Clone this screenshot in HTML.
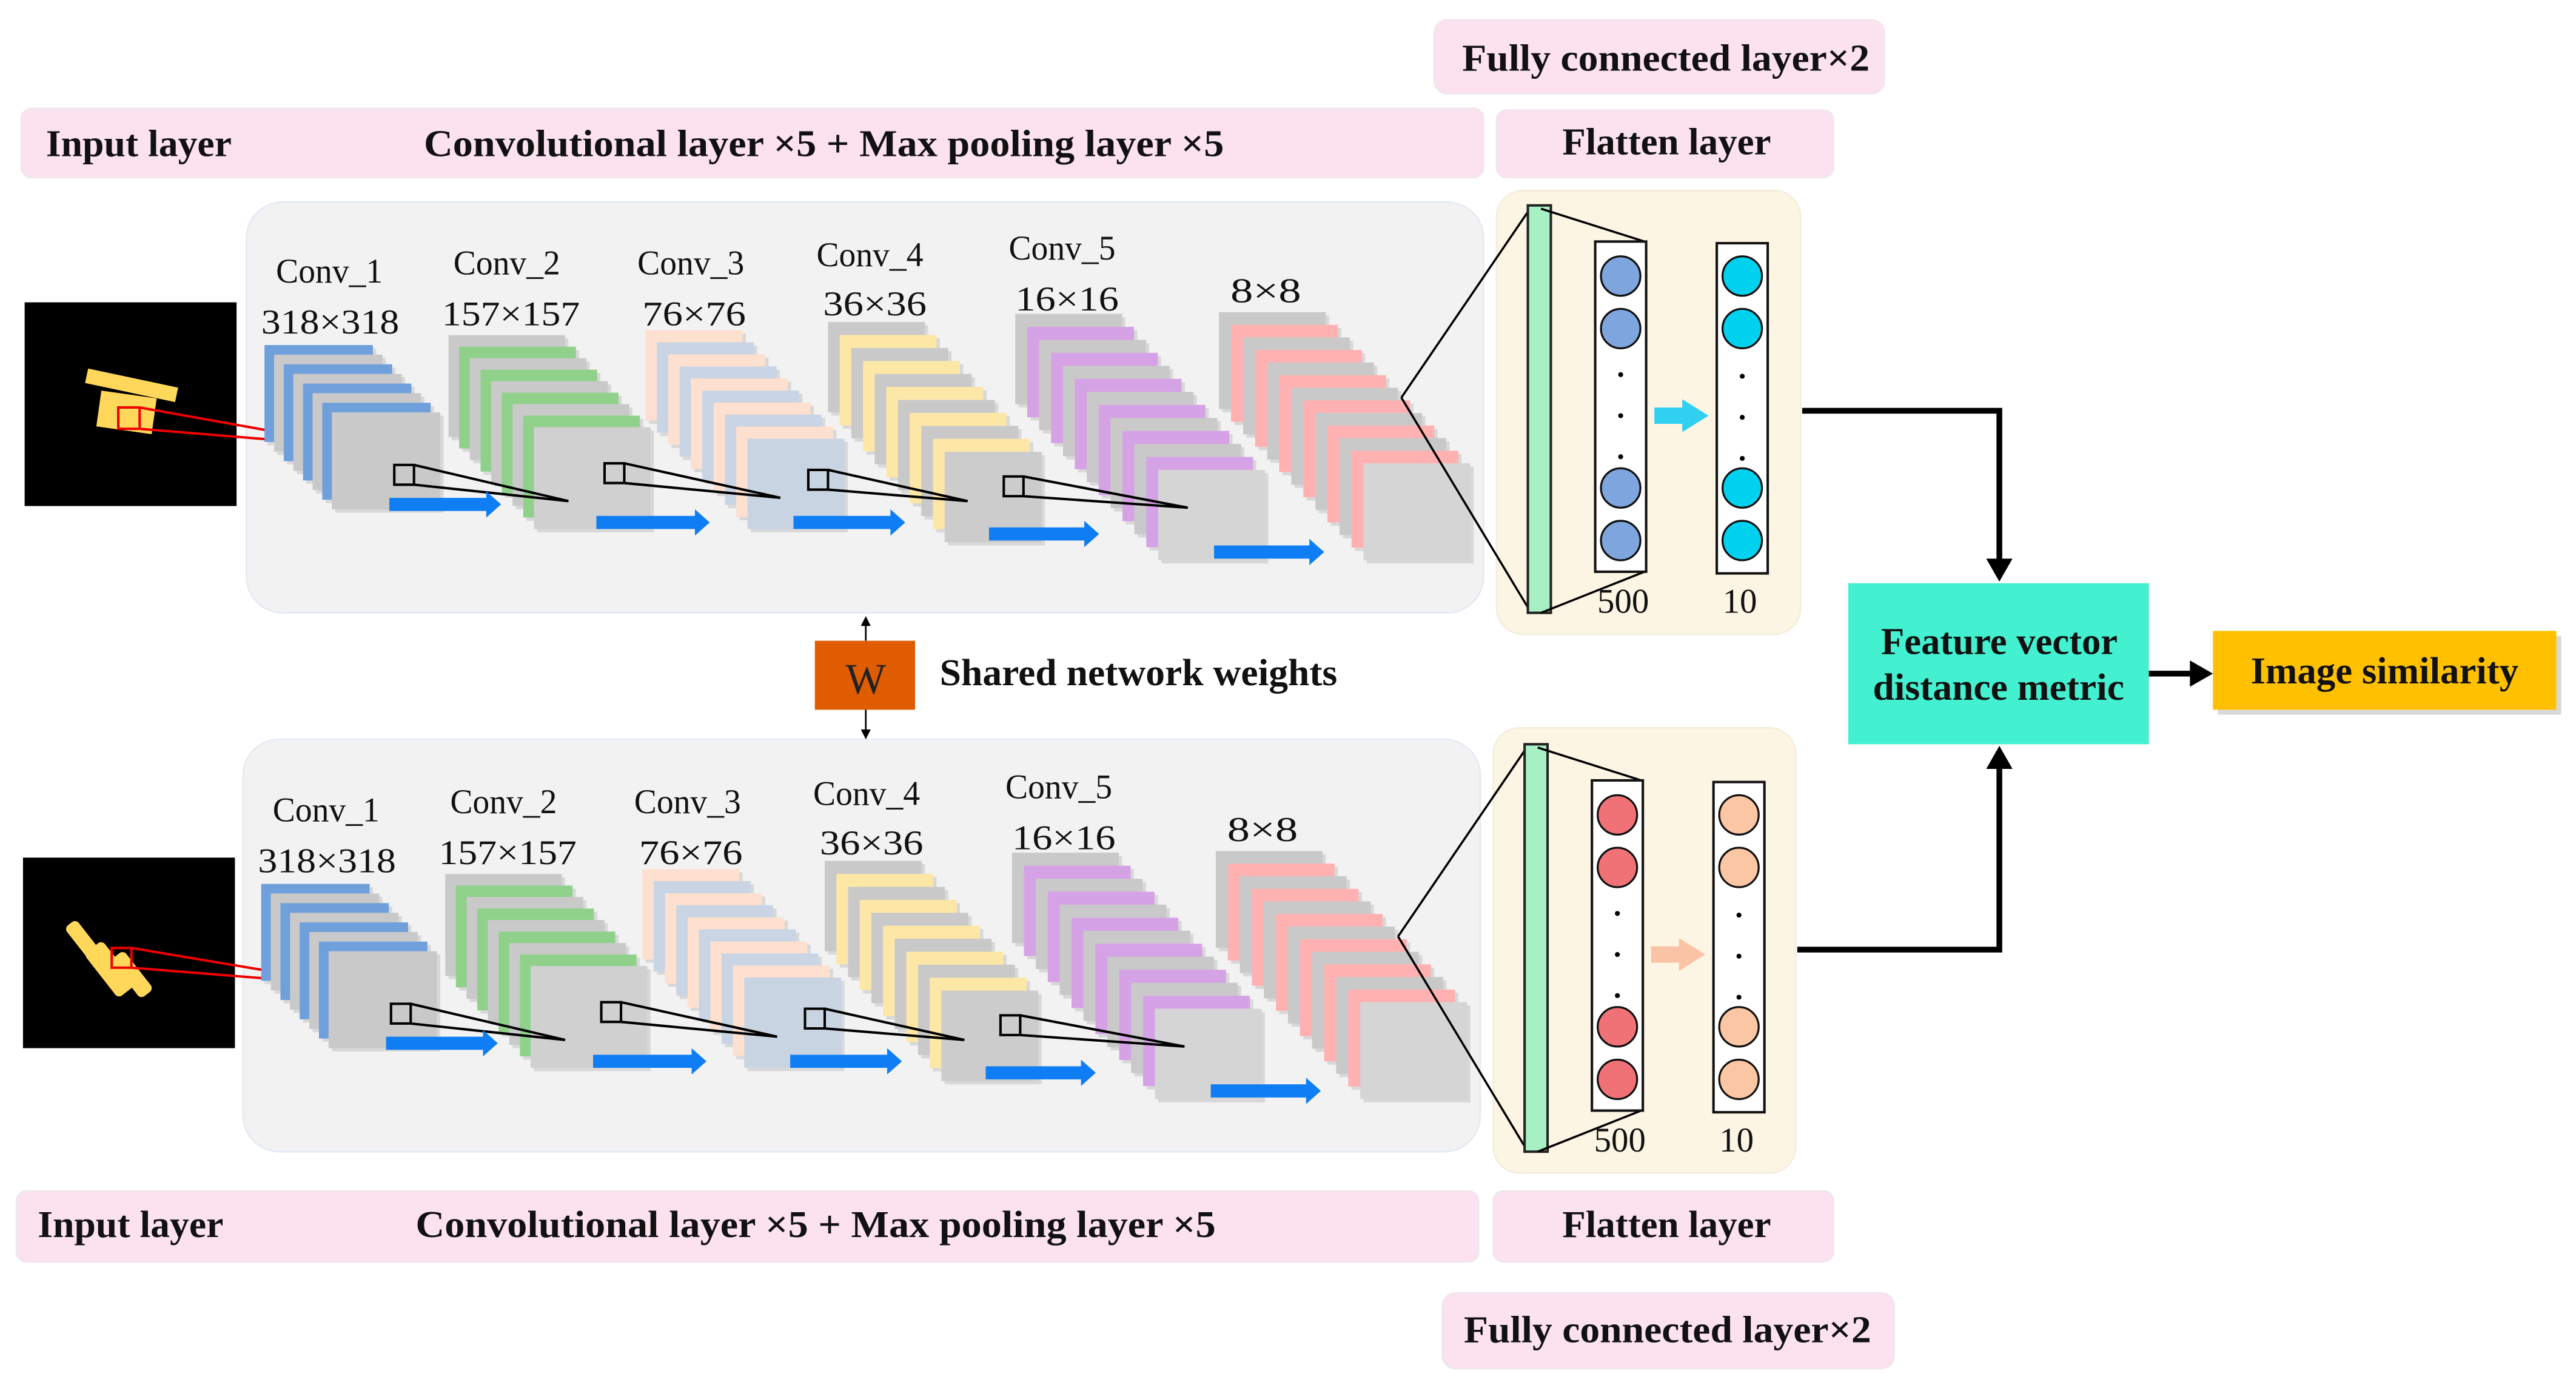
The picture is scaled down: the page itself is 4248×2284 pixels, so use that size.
<!DOCTYPE html>
<html><head><meta charset="utf-8"><style>
html,body{margin:0;padding:0;background:#fff;}
svg{display:block;}
text{font-family:"Liberation Serif",serif;}
.b{font-weight:bold;font-size:23px;fill:#111;}
.n{font-size:21px;fill:#111;}
</style></head><body>
<svg id="s" width="4248" height="2284" viewBox="0 0 1568 843" xmlns="http://www.w3.org/2000/svg">
<defs>
<marker id="ah" markerWidth="6" markerHeight="6" refX="5" refY="3" orient="auto" markerUnits="strokeWidth"><path d="M0,0 L6,3 L0,6 z" fill="#000"/></marker>
</defs>
<!-- top labels -->
<rect x="873" y="12" width="274" height="45" rx="8" fill="#fce1ef" stroke="#f1e6ee"/>
<text class="b" x="890" y="43" textLength="248" lengthAdjust="spacingAndGlyphs">Fully connected layer×2</text>
<rect x="13" y="66" width="890" height="42" rx="6" fill="#fce1ef" stroke="#f1e6ee"/>
<text class="b" x="28" y="95" textLength="113" lengthAdjust="spacingAndGlyphs">Input layer</text>
<text class="b" x="258" y="95" textLength="487" lengthAdjust="spacingAndGlyphs">Convolutional layer ×5 + Max pooling layer ×5</text>
<rect x="911" y="67" width="205" height="41" rx="6" fill="#fce1ef" stroke="#f1e6ee"/>
<text class="b" x="951" y="94" textLength="127" lengthAdjust="spacingAndGlyphs">Flatten layer</text>
<!-- bottom labels -->
<rect x="10" y="725" width="890" height="43" rx="6" fill="#fce1ef" stroke="#f1e6ee"/>
<text class="b" x="23" y="753" textLength="113" lengthAdjust="spacingAndGlyphs">Input layer</text>
<text class="b" x="253" y="753" textLength="487" lengthAdjust="spacingAndGlyphs">Convolutional layer ×5 + Max pooling layer ×5</text>
<rect x="909" y="725" width="207" height="43" rx="6" fill="#fce1ef" stroke="#f1e6ee"/>
<text class="b" x="951" y="753" textLength="127" lengthAdjust="spacingAndGlyphs">Flatten layer</text>
<rect x="878" y="787" width="275" height="46" rx="8" fill="#fce1ef" stroke="#f1e6ee"/>
<text class="b" x="891" y="817" textLength="248" lengthAdjust="spacingAndGlyphs">Fully connected layer×2</text>

<g id="top">
<rect x="150" y="123" width="753" height="250" rx="22" fill="#f2f2f2" stroke="#e4ebf5"/>
<rect x="15" y="184" width="129" height="124" fill="#000"/>
<g fill="#ffd75a">
<rect x="52" y="230" width="56" height="9" transform="rotate(12 80 235)"/>
<rect x="60" y="240" width="34" height="22" transform="rotate(8 77 251)"/>
</g>
<rect x="72" y="248" width="13" height="13" fill="none" stroke="#e00" stroke-width="1.5"/>
<path d="M85,248 L219,272 L85,261" fill="none" stroke="#e00" stroke-width="1.5"/>
<g class="stacks"></g>
<text class="n" x="168" y="172" textLength="65" lengthAdjust="spacingAndGlyphs">Conv_1</text>
<text class="n" x="159" y="203" textLength="84" lengthAdjust="spacingAndGlyphs">318×318</text>
<text class="n" x="276" y="167" textLength="65" lengthAdjust="spacingAndGlyphs">Conv_2</text>
<text class="n" x="269" y="198" textLength="84" lengthAdjust="spacingAndGlyphs">157×157</text>
<text class="n" x="388" y="167" textLength="65" lengthAdjust="spacingAndGlyphs">Conv_3</text>
<text class="n" x="391" y="198" textLength="63" lengthAdjust="spacingAndGlyphs">76×76</text>
<text class="n" x="497" y="162" textLength="65" lengthAdjust="spacingAndGlyphs">Conv_4</text>
<text class="n" x="501" y="192" textLength="63" lengthAdjust="spacingAndGlyphs">36×36</text>
<text class="n" x="614" y="158" textLength="65" lengthAdjust="spacingAndGlyphs">Conv_5</text>
<text class="n" x="618" y="189" textLength="63" lengthAdjust="spacingAndGlyphs">16×16</text>
<text class="n" x="749" y="184" textLength="43" lengthAdjust="spacingAndGlyphs">8×8</text>
</g>

<g id="bot" transform="translate(-2,328)">
<rect x="150" y="122" width="753" height="251" rx="22" fill="#f2f2f2" stroke="#e4ebf5"/>
<rect x="16" y="194" width="129" height="116" fill="#000"/>
<g fill="#ffd75a">
<rect x="50" y="227" width="9" height="38" rx="3" transform="rotate(-38 60 245)"/>
<rect x="62" y="245" width="14" height="34" rx="3" transform="rotate(-38 69 262)"/>
<rect x="78" y="250" width="10" height="30" rx="3" transform="rotate(-38 83 266)"/>
</g>
<rect x="70" y="249" width="12" height="12" fill="none" stroke="#e00" stroke-width="1.5"/>
<path d="M82,249 L219,272 L82,261" fill="none" stroke="#e00" stroke-width="1.5"/>
<g class="stacks"></g>
<text class="n" x="168" y="172" textLength="65" lengthAdjust="spacingAndGlyphs">Conv_1</text>
<text class="n" x="159" y="203" textLength="84" lengthAdjust="spacingAndGlyphs">318×318</text>
<text class="n" x="276" y="167" textLength="65" lengthAdjust="spacingAndGlyphs">Conv_2</text>
<text class="n" x="269" y="198" textLength="84" lengthAdjust="spacingAndGlyphs">157×157</text>
<text class="n" x="388" y="167" textLength="65" lengthAdjust="spacingAndGlyphs">Conv_3</text>
<text class="n" x="391" y="198" textLength="63" lengthAdjust="spacingAndGlyphs">76×76</text>
<text class="n" x="497" y="162" textLength="65" lengthAdjust="spacingAndGlyphs">Conv_4</text>
<text class="n" x="501" y="192" textLength="63" lengthAdjust="spacingAndGlyphs">36×36</text>
<text class="n" x="614" y="158" textLength="65" lengthAdjust="spacingAndGlyphs">Conv_5</text>
<text class="n" x="618" y="189" textLength="63" lengthAdjust="spacingAndGlyphs">16×16</text>
<text class="n" x="749" y="184" textLength="43" lengthAdjust="spacingAndGlyphs">8×8</text>
</g>

<!-- flatten panels -->
<g id="f1">
<rect x="911" y="116" width="185" height="270" rx="16" fill="#fdf5e3" stroke="#f5eddc"/>
<line x1="853" y1="242" x2="932" y2="126" stroke="#000" stroke-width="1.3"/>
<line x1="853" y1="242" x2="932" y2="373" stroke="#000" stroke-width="1.3"/>
<rect x="930" y="125" width="14" height="248" fill="#a6f0c4" stroke="#222" stroke-width="1.5"/>
<line x1="938" y1="127" x2="1001" y2="147" stroke="#000" stroke-width="1.3"/>
<line x1="938" y1="373" x2="1001" y2="348" stroke="#000" stroke-width="1.3"/>
<rect x="971" y="147" width="31" height="201" fill="#fff" stroke="#111" stroke-width="1.5"/>
<rect x="1045" y="148" width="31" height="201" fill="#fff" stroke="#111" stroke-width="1.5"/>
<g stroke="#111" stroke-width="1.2" fill="#7ea5dd">
<ellipse cx="986.5" cy="168" rx="12" ry="12"/><ellipse cx="986.5" cy="200" rx="12" ry="12"/>
<ellipse cx="986.5" cy="297" rx="12" ry="12"/><ellipse cx="986.5" cy="329" rx="12" ry="12"/>
</g>
<g stroke="#111" stroke-width="1.2" fill="#00d1ee">
<ellipse cx="1060.5" cy="168" rx="12" ry="12"/><ellipse cx="1060.5" cy="200" rx="12" ry="12"/>
<ellipse cx="1060.5" cy="297" rx="12" ry="12"/><ellipse cx="1060.5" cy="329" rx="12" ry="12"/>
</g>
<g fill="#000"><circle cx="986.5" cy="228" r="1.5"/><circle cx="986.5" cy="253" r="1.5"/><circle cx="986.5" cy="278" r="1.5"/>
<circle cx="1060.5" cy="229" r="1.5"/><circle cx="1060.5" cy="254" r="1.5"/><circle cx="1060.5" cy="279" r="1.5"/></g>
<path d="M1007,248 L1024,248 L1024,243 L1040,253 L1024,263 L1024,258 L1007,258 z" fill="#2fd0f0"/>
<text class="n" x="988" y="373" text-anchor="middle">500</text>
<text class="n" x="1059" y="373" text-anchor="middle">10</text>
</g>
<g id="f2">
<rect x="909" y="443" width="184" height="271" rx="16" fill="#fdf5e3" stroke="#f5eddc"/>
<line x1="851" y1="570" x2="930" y2="454" stroke="#000" stroke-width="1.3"/>
<line x1="851" y1="570" x2="930" y2="701" stroke="#000" stroke-width="1.3"/>
<rect x="928" y="453" width="14" height="248" fill="#a6f0c4" stroke="#222" stroke-width="1.5"/>
<line x1="936" y1="455" x2="999" y2="475" stroke="#000" stroke-width="1.3"/>
<line x1="936" y1="701" x2="999" y2="676" stroke="#000" stroke-width="1.3"/>
<rect x="969" y="475" width="31" height="201" fill="#fff" stroke="#111" stroke-width="1.5"/>
<rect x="1043" y="476" width="31" height="201" fill="#fff" stroke="#111" stroke-width="1.5"/>
<g stroke="#111" stroke-width="1.2" fill="#f07276">
<ellipse cx="984.5" cy="496" rx="12" ry="12"/><ellipse cx="984.5" cy="528" rx="12" ry="12"/>
<ellipse cx="984.5" cy="625" rx="12" ry="12"/><ellipse cx="984.5" cy="657" rx="12" ry="12"/>
</g>
<g stroke="#111" stroke-width="1.2" fill="#fbc6a4">
<ellipse cx="1058.5" cy="496" rx="12" ry="12"/><ellipse cx="1058.5" cy="528" rx="12" ry="12"/>
<ellipse cx="1058.5" cy="625" rx="12" ry="12"/><ellipse cx="1058.5" cy="657" rx="12" ry="12"/>
</g>
<g fill="#000"><circle cx="984.5" cy="556" r="1.5"/><circle cx="984.5" cy="581" r="1.5"/><circle cx="984.5" cy="606" r="1.5"/>
<circle cx="1058.5" cy="557" r="1.5"/><circle cx="1058.5" cy="582" r="1.5"/><circle cx="1058.5" cy="607" r="1.5"/></g>
<path d="M1005,576 L1022,576 L1022,571 L1038,581 L1022,591 L1022,586 L1005,586 z" fill="#fbc3a6"/>
<text class="n" x="986" y="701" text-anchor="middle">500</text>
<text class="n" x="1057" y="701" text-anchor="middle">10</text>
</g>

<!-- W -->
<line x1="527" y1="390" x2="527" y2="376" stroke="#000" stroke-width="1" marker-end="url(#ah)"/>
<line x1="527" y1="432" x2="527" y2="449" stroke="#000" stroke-width="1" marker-end="url(#ah)"/>
<rect x="496" y="390" width="61" height="42" fill="#e05c00"/>
<text x="527" y="422" text-anchor="middle" font-size="26" fill="#222">W</text>
<text class="b" x="572" y="417" textLength="242" lengthAdjust="spacingAndGlyphs">Shared network weights</text>

<!-- connectors -->
<path d="M1097,250 L1217,250 L1217,346" fill="none" stroke="#000" stroke-width="3.5"/>
<path d="M1209,340 L1225,340 L1217,354 z" fill="#000"/>
<path d="M1094,578 L1217,578 L1217,463" fill="none" stroke="#000" stroke-width="3.5"/>
<path d="M1209,468 L1225,468 L1217,454 z" fill="#000"/>
<rect x="1125" y="355" width="183" height="98" fill="#43f0d0"/>
<text class="b" x="1145" y="398" textLength="144" lengthAdjust="spacingAndGlyphs">Feature vector</text>
<text class="b" x="1140" y="426" textLength="153" lengthAdjust="spacingAndGlyphs">distance metric</text>
<line x1="1308" y1="410" x2="1336" y2="410" stroke="#000" stroke-width="3.5"/>
<path d="M1333,402 L1347,410 L1333,418 z" fill="#000"/>
<rect x="1350" y="387" width="209" height="48" fill="#d9d9d9"/>
<rect x="1347" y="384" width="209" height="48" fill="#ffc000"/>
<text class="b" x="1370" y="416" textLength="163" lengthAdjust="spacingAndGlyphs">Image similarity</text>
</svg>
<script>
var NS="http://www.w3.org/2000/svg";
var stacks=[
 {bx:161,by:210,fx:202,fy:251,w:66,h:59,n:8,c:"#6fa0dc",g:"#c9c9c9",fc:"#c9c9c9"},
 {bx:273,by:204,fx:325,fy:260,w:71,h:62,n:9,c:"#8fd18a",g:"#c9c9c9",fc:"#d0d0d0"},
 {bx:393,by:201,fx:455,fy:267,w:59,h:55,n:10,c:"#fde0cf",g:"#c9d4e4",fc:"#c9d4e2"},
 {bx:504,by:196,fx:575,fy:275,w:59,h:55,n:11,c:"#fde7a6",g:"#c9c9c9",fc:"#cccccc"},
 {bx:618,by:191,fx:705,fy:286,w:65,h:55,n:13,c:"#d6a2e6",g:"#c9c9c9",fc:"#d5d5d5"},
 {bx:742,by:190,fx:830,fy:282,w:65,h:59,n:13,c:"#ffb1b1",g:"#c9c9c9",fc:"#d5d5d5"}
];
var pyr=[[240,283,346,305],[368,282,475,303],[492,286,589,305],[611,290,723,309]];
var arr=[[237,307,305],[363,318,432],[483,318,551],[602,325,669],[739,336,806]];
function el(p,t,a){var e=document.createElementNS(NS,t);for(var k in a)e.setAttribute(k,a[k]);p.appendChild(e);return e;}
document.querySelectorAll(".stacks").forEach(function(g){
 stacks.forEach(function(s){
  var dx=(s.fx-s.bx)/(s.n-1),dy=(s.fy-s.by)/(s.n-1);
  for(var i=0;i<s.n;i++){
   var last=i==s.n-1;
   var col=last?s.fc:((s.n-1-i)%2==1?s.c:s.g);
   el(g,"rect",{x:s.bx+dx*i+2,y:s.by+dy*i+2,width:s.w,height:s.h,fill:"#bdbdbd",opacity:0.5});
   el(g,"rect",{x:s.bx+dx*i,y:s.by+dy*i,width:s.w,height:s.h,fill:col});
  }
 });
 pyr.forEach(function(p){
  el(g,"path",{d:"M"+p[0]+","+p[1]+" h12 v12 h-12 z M"+(p[0]+12)+","+p[1]+" L"+p[2]+","+p[3]+" L"+(p[0]+12)+","+(p[1]+12),fill:"none",stroke:"#000","stroke-width":1.5});
 });
 arr.forEach(function(a){
  var x1=a[0],y=a[1],x2=a[2];
  el(g,"path",{d:"M"+x1+","+(y-4)+" L"+(x2-9)+","+(y-4)+" L"+(x2-9)+","+(y-8)+" L"+x2+","+y+" L"+(x2-9)+","+(y+8)+" L"+(x2-9)+","+(y+4)+" L"+x1+","+(y+4)+" z",fill:"#0f7ef5"});
 });
});
</script>
</body></html>
